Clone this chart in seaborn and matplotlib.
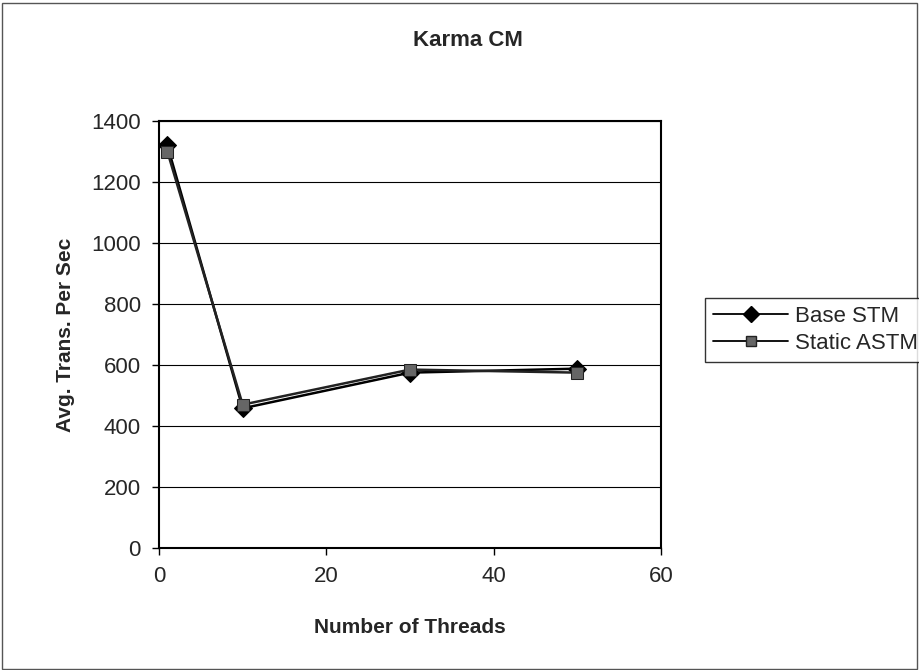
import matplotlib
matplotlib.use("Agg")
import matplotlib.pyplot as plt
import seaborn as sns
import pandas as pd
from matplotlib.patches import Rectangle
from matplotlib.lines import Line2D

threads = [1, 10, 30, 50]
base_stm = [1320, 458, 575, 588]
static_astm = [1300, 470, 585, 575]
series_names = ["Base STM", "Static ASTM"]
x_ticks = [0, 20, 40, 60]
y_ticks = [0, 200, 400, 600, 800, 1000, 1200, 1400]

df = pd.DataFrame({
    "threads": threads * 2,
    "value": base_stm + static_astm,
    "series": [series_names[0]] * len(threads) + [series_names[1]] * len(threads),
})

sns.set_style("white")
plt.rcParams["font.family"] = ["Liberation Sans", "DejaVu Sans"]

fig = plt.figure(figsize=(9.19, 6.70), dpi=100)
ax = fig.add_axes([159 / 919, 1 - 548 / 670, (661 - 159) / 919, (548 - 121) / 670])

sns.lineplot(data=df, x="threads", y="value", hue="series", style="series",
             palette={series_names[0]: "black", series_names[1]: "#222222"},
             markers={series_names[0]: "D", series_names[1]: "s"},
             dashes=False, linewidth=1.8, markersize=9, ax=ax, legend=False)
lines = ax.get_lines()
lines[0].set_markerfacecolor("black"); lines[0].set_markeredgecolor("black")
lines[1].set_markerfacecolor("#666666"); lines[1].set_markeredgecolor("#222222")
lines[1].set_markersize(8)

ax.set_xlim(0, 60)
ax.set_ylim(0, 1400)
ax.set_xticks(x_ticks)
ax.set_yticks(y_ticks)
ax.yaxis.grid(True, color="black", linewidth=0.8)
ax.set_axisbelow(True)
for s in ax.spines.values():
    s.set_visible(True)
    s.set_color("black")
    s.set_linewidth(1.5)
ax.tick_params(axis="both", which="both", direction="out", length=5, width=1,
               color="black", labelsize=16, pad=8, left=True, bottom=True)
ax.set_xlabel("Number of Threads", fontsize=15, fontweight="bold", labelpad=22)
ax.set_ylabel("Avg. Trans. Per Sec", fontsize=15, fontweight="bold", labelpad=12)
fig.text(468 / 919, 1 - 41 / 670, "Karma CM", ha="center", va="center",
         fontsize=16, fontweight="bold")

handles = [
    Line2D([], [], color="black", marker="D", markersize=8, linewidth=1.3,
           markerfacecolor="black", markeredgecolor="black"),
    Line2D([], [], color="black", marker="s", markersize=7, linewidth=1.3,
           markerfacecolor="#666666", markeredgecolor="#222222"),
]
leg = fig.legend(handles, series_names, loc="center left",
                 bbox_to_anchor=(705 / 919, 1 - 330 / 670), fontsize=16,
                 frameon=True, fancybox=False, edgecolor="black",
                 handlelength=3.4, handletextpad=0.3, borderpad=0.35,
                 labelspacing=0.25, borderaxespad=0)
leg.get_frame().set_linewidth(1.0)

fig.patches.append(Rectangle((0.002, 0.002), 0.996, 0.994, transform=fig.transFigure,
                             fill=False, edgecolor="#555555", linewidth=1.0))

fig.savefig("out.png", dpi=100)
